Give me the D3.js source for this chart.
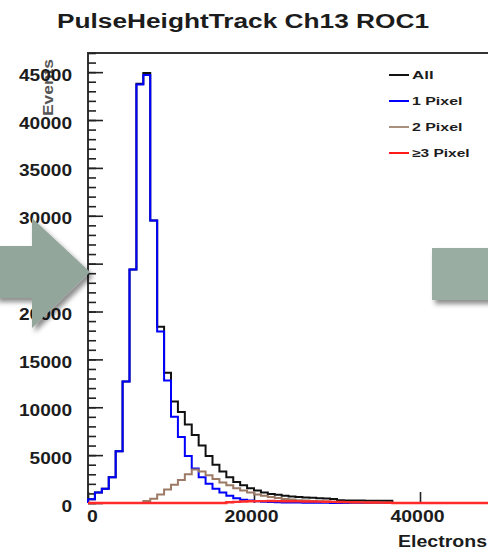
<!DOCTYPE html>
<html lang="en">
<head>
<meta charset="UTF-8">
<title>PulseHeightTrack Ch13 ROC1</title>
<script src="https://d3js.org/d3.v7.min.js"></script>
<style>
body { margin: 0; background: #fff; }
text { font-family: "Liberation Sans", Arial, sans-serif; font-weight: bold; fill: #1c1c1c; }
</style>
</head>
<body>
<svg id="chart" width="488" height="550"></svg>
<script>
// histogram binning: 60 bins from 0 to 50000 electrons
var binWidth = 50000 / 60;

var allCounts = [400, 1100, 1500, 2700, 5400, 12700, 24400, 43800, 44900, 29500,
  18400, 13600, 10600, 9500, 8200, 7100, 6000, 4900, 4000, 3300,
  2700, 2200, 1850, 1550, 1300, 1100, 950, 850, 750, 680,
  620, 580, 540, 500, 460, 420, 300, 260, 250, 250,
  240, 240, 230, 230, 0, 0, 0, 0, 0, 0,
  0, 0, 0, 0, 0, 0, 0, 0, 0, 0];

var onePixel = [400, 1100, 1500, 2700, 5400, 12700, 24400, 43700, 44700, 29500,
  17900, 12800, 9000, 6900, 4900, 3600, 2700, 2000, 1500, 1100,
  750, 500, 350, 250, 180, 130, 100, 80, 60, 50,
  40, 30, 30, 20, 20, 10, 0, 0, 0, 0,
  0, 0, 0, 0, 0, 0, 0, 0, 0, 0,
  0, 0, 0, 0, 0, 0, 0, 0, 0, 0];

var twoPixel = [0, 0, 0, 0, 0, 0, 0, 0, 200, 450,
  900, 1400, 1900, 2400, 3000, 3500, 3300, 2900, 2500, 2150,
  1850, 1550, 1300, 1100, 900, 750, 620, 520, 430, 360,
  300, 250, 210, 180, 150, 120, 100, 80, 60, 50,
  40, 30, 20, 10, 0, 0, 0, 0, 0, 0,
  0, 0, 0, 0, 0, 0, 0, 0, 0, 0];

var threePixel = [0, 0, 0, 0, 0, 0, 0, 0, 0, 0,
  0, 0, 0, 0, 0, 0, 0, 0, 0, 0,
  80, 120, 160, 180, 200, 200, 210, 200, 190, 180,
  170, 160, 150, 140, 130, 120, 100, 90, 80, 70,
  60, 50, 40, 30, 0, 0, 0, 0, 0, 0,
  0, 0, 0, 0, 0, 0, 0, 0, 0, 0];

var yMajor = [0, 5000, 10000, 15000, 20000, 25000, 30000, 35000, 40000, 45000];
var xMajor = [0, 20000, 40000];
var legendNames = ["All", "1 Pixel", "2 Pixel", "\u22653 Pixel"];
var legendColors = ["#111111", "#0000ff", "#a8907e", "#ff1a1a"];

var svg = d3.select("#chart");

var x = d3.scaleLinear().domain([0, 50000]).range([88, 503]);
var y = d3.scaleLinear().domain([0, 47000]).range([503, 53]);

// the picture is a bit stretched sideways: widen each label to its measured width
function widen(sel, perChar) {
  sel.each(function() {
    var n = this.textContent.length;
    d3.select(this).attr("textLength", n * perChar).attr("lengthAdjust", "spacingAndGlyphs");
  });
}

// title
svg.append("text")
  .attr("x", 243).attr("y", 28)
  .attr("text-anchor", "middle")
  .style("font-size", "20px")
  .attr("textLength", 372).attr("lengthAdjust", "spacingAndGlyphs")
  .text("PulseHeightTrack Ch13 ROC1");

// y axis title
svg.append("text")
  .attr("transform", "translate(53,59) rotate(-90)")
  .attr("text-anchor", "end")
  .style("font-size", "15px")
  .style("fill", "#555")
  .attr("textLength", 57).attr("lengthAdjust", "spacingAndGlyphs")
  .text("Events");

// frame
svg.append("line").attr("x1", 88).attr("x2", 88).attr("y1", 53).attr("y2", 503)
  .attr("stroke", "#333").attr("stroke-width", 2);
svg.append("line").attr("x1", 87).attr("x2", 503).attr("y1", 53).attr("y2", 53)
  .attr("stroke", "#333").attr("stroke-width", 2);

// y ticks (inward, ROOT style)
var yMinor = svg.append("g").attr("transform", "translate(88,0)")
  .call(d3.axisRight(y).tickValues(d3.range(0, 47001, 1000)).tickSize(8).tickFormat(""));
var yTicks = svg.append("g").attr("transform", "translate(88,0)")
  .call(d3.axisRight(y).tickValues(yMajor).tickSize(15).tickFormat(""));
[yMinor, yTicks].forEach(function(g) {
  g.select(".domain").remove();
  g.selectAll("line").attr("stroke", "#222").attr("stroke-width", 1.6);
});

var yLabels = svg.append("g").attr("transform", "translate(88,0)")
  .call(d3.axisLeft(y).tickValues(yMajor).tickSize(0).tickPadding(16).tickFormat(d3.format("d")));
yLabels.select(".domain").remove();
yLabels.attr("font-family", null).attr("font-size", null);
yLabels.selectAll("text")
  .style("font-size", "16px").attr("dy", "0.5em").style("fill", "#1c1c1c");
widen(yLabels.selectAll("text"), 10.6);

// x ticks
var xTicks = svg.append("g").attr("transform", "translate(0,503)")
  .call(d3.axisTop(x).tickValues(xMajor).tickSize(11).tickFormat(""));
xTicks.select(".domain").remove();
xTicks.selectAll("line").attr("stroke", "#222").attr("stroke-width", 1.6);

var xLabels = svg.append("g").attr("transform", "translate(0,503)")
  .call(d3.axisBottom(x).tickValues(xMajor).tickSize(0).tickPadding(8).tickFormat(d3.format("d")));
xLabels.select(".domain").remove();
xLabels.attr("font-family", null).attr("font-size", null);
xLabels.selectAll("text")
  .style("font-size", "16px").style("fill", "#1c1c1c")
  .attr("dx", function(d) { return d === 0 ? 4 : -3; });
widen(xLabels.selectAll("text"), 10.8);

// x axis title
svg.append("text")
  .attr("x", 487).attr("y", 547)
  .attr("text-anchor", "end")
  .style("font-size", "16px")
  .attr("textLength", 89).attr("lengthAdjust", "spacingAndGlyphs")
  .text("Electrons");

// histograms as ROOT-like step outlines
function stepPoints(counts) {
  var pts = [[0, 0]];
  counts.forEach(function(c, i) { pts.push([i * binWidth, c]); });
  pts.push([counts.length * binWidth, 0]);
  return pts;
}
var line = d3.line()
  .x(function(d) { return x(d[0]); })
  .y(function(d) { return y(d[1]); })
  .curve(d3.curveStepAfter);

var series = [allCounts, onePixel, twoPixel, threePixel];
var plotColors = ["#111111", "#0000ff", "#9c7a66", "#ff2a2a"];
var plotWidths = [2, 2, 2, 2.4];
series.forEach(function(s, i) {
  svg.append("path")
    .attr("d", line(stepPoints(s)))
    .attr("fill", "none")
    .attr("stroke", plotColors[i])
    .attr("stroke-width", plotWidths[i]);
});

// legend
var leg = svg.append("g");
legendNames.forEach(function(n, i) {
  var ly = 75 + i * 26;
  leg.append("line").attr("x1", 389).attr("x2", 409).attr("y1", ly).attr("y2", ly)
    .attr("stroke", legendColors[i]).attr("stroke-width", 2);
  leg.append("text").attr("x", 412).attr("y", ly + 4)
    .style("font-size", "11px")
    .attr("textLength", n.length * 7.2).attr("lengthAdjust", "spacingAndGlyphs")
    .text(n);
});

// slide decorations overlaying the plot (grey arrows)
var defs = svg.append("defs");
var f = defs.append("filter").attr("id", "shadow").attr("x", "-20%").attr("y", "-20%")
  .attr("width", "150%").attr("height", "150%");
f.append("feDropShadow").attr("dx", 3).attr("dy", 4).attr("stdDeviation", 2.5)
  .attr("flood-color", "#000").attr("flood-opacity", 0.45);

svg.append("polygon")
  .attr("points", "-5,246 32,246 32,218 90,272 32,328 32,298 -5,298")
  .attr("fill", "#93a69b")
  .attr("filter", "url(#shadow)");

svg.append("rect")
  .attr("x", 432).attr("y", 248).attr("width", 70).attr("height", 52)
  .attr("fill", "#9aada3")
  .attr("filter", "url(#shadow)");
</script>
</body>
</html>
